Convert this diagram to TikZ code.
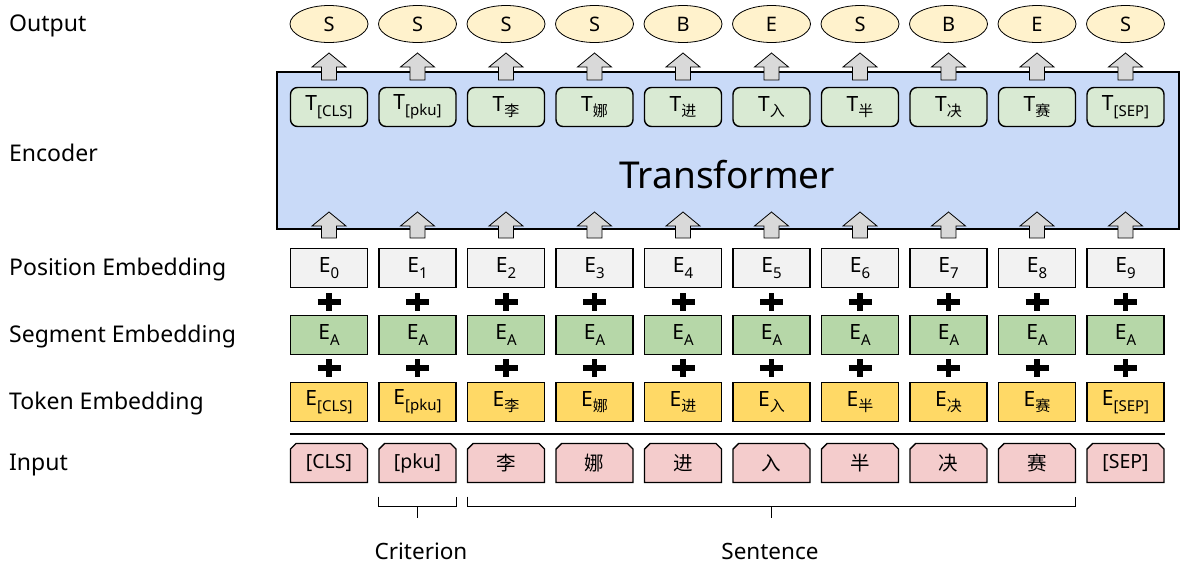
\documentclass[tikz,border=0pt]{standalone}
\usepackage{fontspec}
\usepackage{xcolor}
\setmainfont{Noto Sans}
\newfontfamily\cjk{Noto Sans CJK SC}
\usetikzlibrary{shapes.geometric,positioning,calc}

\definecolor{outfill}{HTML}{FFF2CC}
\definecolor{tfill}{HTML}{D9EAD3}
\definecolor{transfill}{HTML}{C9DAF8}
\definecolor{posfill}{HTML}{F2F2F2}
\definecolor{segfill}{HTML}{B6D7A8}
\definecolor{tokfill}{HTML}{FFD966}
\definecolor{infill}{HTML}{F4CCCC}
\definecolor{arrfill}{HTML}{D9D9D9}

\newcommand{\lowsub}[1]{\raisebox{-0.5ex}{\fontsize{15}{15}\selectfont #1}}

\tikzset{
  rowlabel/.style={anchor=west, font=\fontsize{23}{23}\selectfont, inner sep=0},
  outnode/.style={ellipse, draw, thick, fill=outfill, minimum width=78, minimum height=37, inner sep=0, font=\fontsize{20}{20}\selectfont},
  embbox/.style={rectangle, draw, line width=1.4pt, minimum width=77, minimum height=39, inner sep=0, font=\fontsize{21}{21}\selectfont},
  tbox/.style={embbox, rounded corners=7, fill=tfill},
  inbox/.style={rectangle, minimum width=77, minimum height=39, inner sep=0, font=\fontsize{19.5}{19.5}\selectfont},
  inshape/.style={draw, line width=1.4pt, fill=infill, line join=miter},
  blockarrow/.style={draw, thick, fill=arrfill, line join=miter},
  plussign/.style={line width=5.5pt},
  bracket/.style={thick}
}

\begin{document}
\begin{tikzpicture}[x=1pt, y=-1pt]
  \useasboundingbox (0,0) rectangle (1184,568);

  % Row labels
  \node[rowlabel] (lout) at (9,26) {Output};
  \node[rowlabel] (lenc) at (9,153) {Encoder};
  \node[rowlabel] (lpos) at (9,270) {Position Embedding};
  \node[rowlabel] (lseg) at (9,337) {Segment Embedding};
  \node[rowlabel] (ltok) at (9,404) {Token Embedding};
  \node[rowlabel] (lin) at (9,465) {Input};

  % Transformer
  \node[draw, line width=1.4pt, fill=transfill, minimum width=902, minimum height=157, inner sep=0] (trans) at (728,150.5) {};
  \node[font=\fontsize{37}{37}\selectfont] (translabel) at (727,175) {Transformer};

  % Columns
  \foreach \tok/\out [count=\n from 0] in {{[CLS]}/S, {[pku]}/S, {\cjk 李}/S, {\cjk 娜}/S, {\cjk 进}/B, {\cjk 入}/E, {\cjk 半}/S, {\cjk 决}/B, {\cjk 赛}/E, {[SEP]}/S} {
    \pgfmathsetmacro{\cx}{329+88.5*\n}
    \node[outnode] (out\n) at (\cx,24) {\out};
    \node[tbox] (t\n) at (\cx,107) {T\lowsub{\tok}};
    \node[embbox, fill=posfill] (pos\n) at (\cx,268) {E\lowsub{\n}};
    \node[embbox, fill=segfill] (seg\n) at (\cx,335) {E\lowsub{A}};
    \node[embbox, fill=tokfill] (tok\n) at (\cx,402) {E\lowsub{\tok}};
    % input box with cut corners
    \draw[inshape] (\cx-38.5,482.5) -- (\cx-38.5,449) -- (\cx-33,443.5) -- (\cx+33,443.5) -- (\cx+38.5,449) -- (\cx+38.5,482.5) -- cycle;
    \node[inbox] (in\n) at (\cx,463) {\tok};
    % block arrows
    \draw[blockarrow] (\cx-7.5,80) -- ++(0,-13) -- ++(-9.5,0) -- (\cx,53) -- (\cx+17,67) -- ++(-9.5,0) -- ++(0,13) -- cycle;
    \draw[blockarrow] (\cx-7.5,238) -- ++(0,-12) -- ++(-9.5,0) -- (\cx,212) -- (\cx+17,226) -- ++(-9.5,0) -- ++(0,12) -- cycle;
    % plus signs
    \draw[plussign] (\cx-11.5,302) -- (\cx+11.5,302) (\cx,293) -- (\cx,311);
    \draw[plussign] (\cx-11.5,368) -- (\cx+11.5,368) (\cx,359) -- (\cx,377);
  }

  % Separator line
  \draw[line width=2pt] ([yshift=-12]tok0.south west) coordinate (sepl) -- (sepl -| tok9.south east);

  % Brackets
  \draw[bracket] ([yshift=-14]in1.south west) -- ++(0,10) -| ([yshift=-14]in1.south east);
  \draw[bracket] ([yshift=-24]in1.south) -- ++(0,11) coordinate (critend);
  \draw[bracket] ([yshift=-14]in2.south west) -- ++(0,10) -| ([yshift=-14]in8.south east);
  \draw[bracket] ($(in2.south west)!0.5!(in8.south east)+(0,24)$) -- ++(0,11) coordinate (sentend);

  \node[font=\fontsize{22.5}{22.5}\selectfont] (crit) at (421,551) {Criterion};
  \node[font=\fontsize{22.5}{22.5}\selectfont] (sent) at (770,551) {Sentence};
\end{tikzpicture}
\end{document}
